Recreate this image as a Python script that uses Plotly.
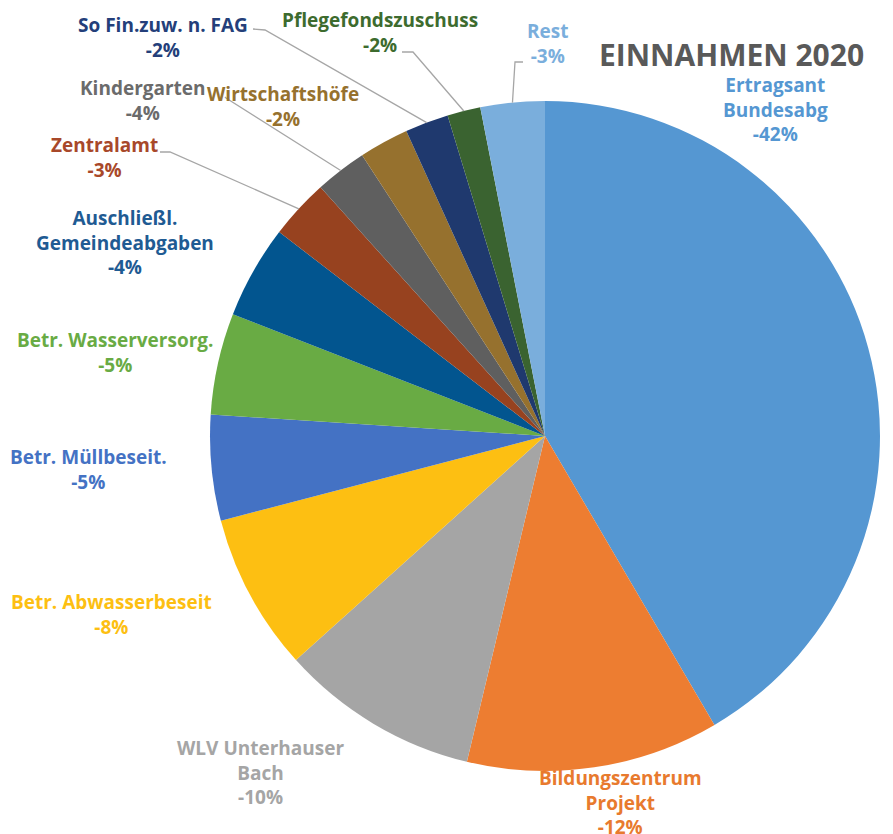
import math
import plotly.graph_objects as go

# ---- data ----
categories = ["Ertragsant Bundesabg", "Bildungszentrum Projekt", "WLV Unterhauser Bach",
              "Betr. Abwasserbeseit", "Betr. Müllbeseit.", "Betr. Wasserversorg.",
              "Auschließl. Gemeindeabgaben", "Zentralamt", "Kindergarten",
              "Wirtschaftshöfe", "So Fin.zuw. n. FAG", "Pflegefondszuschuss", "Rest"]
values = [41.6, 12.2, 9.6, 7.6, 5.1, 4.9, 4.5, 2.9, 2.5, 2.4, 2.1, 1.6, 3.1]
label_lines = [["Ertragsant", "Bundesabg"], ["Bildungszentrum", "Projekt"], ["WLV Unterhauser", "Bach"],
               ["Betr. Abwasserbeseit"], ["Betr. Müllbeseit."], ["Betr. Wasserversorg."],
               ["Auschließl.", "Gemeindeabgaben"], ["Zentralamt"], ["Kindergarten"],
               ["Wirtschaftshöfe"], ["So Fin.zuw. n. FAG"], ["Pflegefondszuschuss"], ["Rest"]]
pct_labels = ["-42%", "-12%", "-10%", "-8%", "-5%", "-5%", "-4%", "-3%", "-4%", "-2%", "-2%", "-2%", "-3%"]
colors = ["#5597D2", "#ED7D31", "#A5A5A5", "#FDBF12", "#4472C4", "#69AB44",
          "#02558F", "#97421F", "#5F5F5F", "#96712E", "#1F396E", "#3A6330", "#7AAEDC"]
text_colors = ["#5597D2", "#E87A2E", "#A5A5A5", "#FDBF12", "#4472C4", "#69AB44",
               "#1F5B93", "#A8482A", "#6B6B6B", "#96712E", "#243F7A", "#3D6B2E", "#7AAEDC"]
title_text = "EINNAHMEN 2020"

# ---- layout geometry (window pixels; page body has an 8px margin) ----
OFF = 8
W, H = 893 - OFF, 834 - OFF
CX, CY, R = 545, 436, 335

def px(x):
    return (x - OFF) / W

def py(y):
    return 1 - (y - OFF) / H

# label centres (pixels)
label_pos = [(775, 110), (620, 802), (260, 772), (111, 614), (88, 470), (115, 352),
             (125, 243), (104, 157), (143, 100), (283, 106), (163, 37), (380, 33), (547, 43)]
# leader lines: index -> (start, elbow) in pixels; end computed at slice edge
leaders = {7: [(160, 152), (170, 152)],
           8: [(225, 97), (226, 98)],
           10: [(253, 29), (265, 30)],
           11: [(402, 52), (413, 52)],
           12: [(523, 62), (515, 62)]}

fig = go.Figure(go.Pie(
    labels=categories, values=values, sort=False, direction="clockwise", rotation=0,
    marker=dict(colors=colors, line=dict(width=0)),
    textinfo="none", hoverinfo="label+percent", showlegend=False,
    domain=dict(x=[px(CX - R), px(CX + R)], y=[py(CY + R), py(CY - R)]),
))

annotations = []
for i, (lines, pct) in enumerate(zip(label_lines, pct_labels)):
    x, y = label_pos[i]
    text = "<br>".join("<b>" + s + "</b>" for s in lines + [pct])
    annotations.append(dict(
        x=px(x), y=py(y), xref="paper", yref="paper", showarrow=False,
        text=text, align="center", xanchor="center", yanchor="middle",
        font=dict(family="Open Sans", size=19, color=text_colors[i])))

annotations.append(dict(x=px(731), y=py(54), xref="paper", yref="paper", showarrow=False,
                        text="<b>" + title_text + "</b>", xanchor="center", yanchor="middle",
                        font=dict(family="Open Sans", size=30, color="#595959")))

total = sum(values)
cum = [0]
for v in values:
    cum.append(cum[-1] + v)

shapes = []
for i, pts in leaders.items():
    mid = (cum[i] + cum[i + 1]) / 2 / total * 2 * math.pi
    ex = CX + R * math.sin(mid)
    ey = CY - R * math.cos(mid)
    allpts = pts + [(ex, ey)]
    path = "M " + " L ".join(f"{px(a):.5f},{py(b):.5f}" for a, b in allpts)
    shapes.append(dict(type="path", path=path, xref="paper", yref="paper",
                       line=dict(color="#A6A6A6", width=1.3)))

fig.update_layout(width=W, height=H, margin=dict(l=0, r=0, t=0, b=0),
                  paper_bgcolor="white", plot_bgcolor="white",
                  annotations=annotations, shapes=shapes)

fig.write_html("out.html")
